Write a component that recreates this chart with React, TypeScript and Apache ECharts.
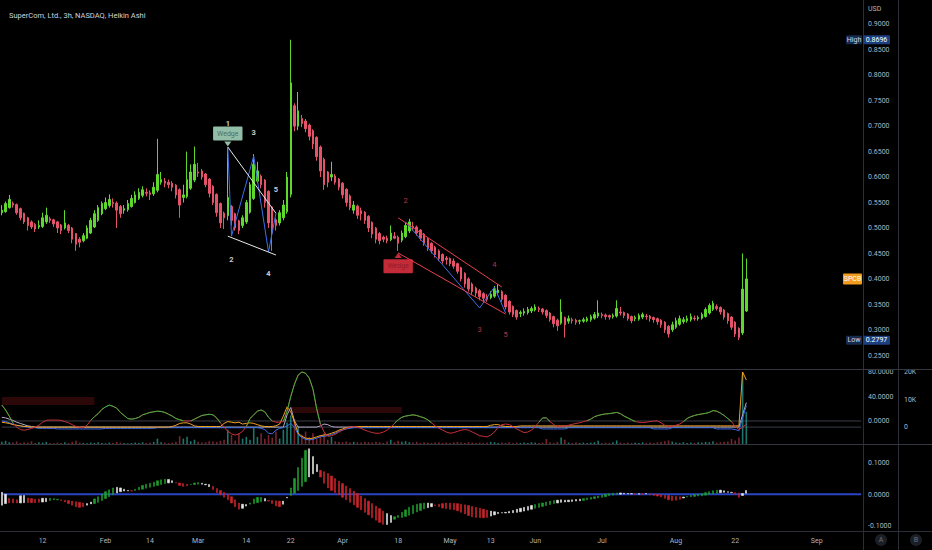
import React, { useEffect, useRef, useState } from 'react';
import * as echarts from 'echarts';

const TITLE = 'SuperCom, Ltd., 3h, NASDAQ, Heikin Ashi';
const TOTAL_SLOTS = 233;

// Heikin Ashi bars: [open, close, low, high]
const haBars = [
  [.530,.535,.525,.545],[.532,.548,.530,.552],[.540,.556,.538,.565],[.548,.545,.540,.552],[.546,.530,.526,.548],
  [.538,.520,.515,.540],[.529,.512,.508,.530],[.520,.505,.495,.522],[.512,.502,.498,.515],[.507,.498,.492,.510],
  [.502,.505,.498,.515],[.503,.520,.500,.530],[.512,.525,.508,.540],[.518,.515,.510,.522],[.516,.508,.502,.518],
  [.512,.500,.490,.514],[.506,.495,.488,.508],[.500,.510,.497,.535],[.505,.495,.490,.508],[.500,.478,.470,.502],
  [.489,.468,.455,.490],[.478,.472,.462,.482],[.475,.485,.472,.490],[.480,.500,.478,.505],[.490,.515,.488,.520],
  [.502,.528,.500,.535],[.515,.540,.512,.545],[.528,.548,.525,.552],[.538,.550,.535,.560],[.544,.556,.540,.566],
  [.550,.548,.540,.558],[.549,.535,.500,.552],[.542,.528,.520,.545],[.535,.538,.528,.545],[.536,.548,.532,.555],
  [.542,.558,.540,.565],[.550,.565,.548,.572],[.558,.570,.555,.578],[.564,.575,.560,.582],[.570,.568,.562,.578],
  [.569,.566,.555,.574],[.567,.580,.563,.590],[.574,.605,.570,.675],[.590,.595,.585,.610],[.592,.588,.580,.598],
  [.590,.585,.578,.595],[.588,.580,.572,.592],[.584,.565,.558,.586],[.575,.545,.520,.578],[.560,.565,.550,.585],
  [.562,.595,.558,.650],[.578,.610,.575,.625],[.594,.625,.590,.660],[.610,.608,.600,.628],[.612,.600,.595,.616],
  [.606,.585,.580,.608],[.596,.568,.560,.598],[.582,.550,.545,.584],[.566,.530,.522,.568],[.548,.510,.500,.550],
  [.529,.520,.498,.532],[.524,.560,.515,.658],[.542,.515,.505,.545],[.528,.500,.495,.530],[.514,.495,.488,.516],
  [.505,.520,.500,.525],[.512,.550,.508,.555],[.531,.585,.528,.590],[.558,.625,.555,.645],[.592,.612,.588,.630],
  [.602,.585,.578,.605],[.594,.550,.540,.596],[.572,.510,.500,.574],[.541,.490,.455,.543],[.516,.505,.495,.520],
  [.510,.530,.505,.535],[.520,.545,.515,.555],[.532,.600,.528,.610],[.566,.785,.560,.8696],[.740,.700,.690,.745],
  [.700,.730,.692,.767],[.715,.705,.698,.722],[.710,.695,.688,.714],[.702,.680,.672,.705],[.691,.665,.655,.694],
  [.678,.640,.632,.680],[.659,.612,.600,.662],[.635,.585,.575,.638],[.610,.590,.580,.612],[.600,.605,.592,.630],
  [.602,.590,.585,.606],[.596,.580,.574,.598],[.588,.565,.558,.590],[.576,.550,.542,.578],[.563,.540,.535,.566],
  [.535,.545,.528,.553],[.543,.525,.518,.546],[.534,.528,.515,.540],[.531,.515,.508,.533],[.523,.500,.492,.525],
  [.511,.488,.480,.513],[.500,.478,.470,.502],[.489,.475,.468,.492],[.482,.478,.472,.485],[.480,.475,.470,.485],
  [.477,.490,.474,.505],[.484,.480,.478,.492],[.482,.470,.455,.485],[.476,.490,.472,.495],[.483,.505,.480,.510],
  [.494,.512,.490,.518],[.503,.500,.495,.512],[.502,.490,.485,.505],[.496,.480,.475,.498],[.488,.470,.465,.490],
  [.479,.460,.455,.482],[.470,.455,.450,.472],[.462,.448,.442,.465],[.455,.440,.435,.458],[.448,.435,.430,.450],
  [.441,.438,.428,.445],[.440,.430,.425,.442],[.435,.425,.420,.440],[.430,.415,.410,.432],[.422,.400,.395,.424],
  [.411,.390,.383,.413],[.400,.380,.375,.403],[.390,.375,.368,.393],[.382,.372,.365,.385],[.377,.365,.358,.380],
  [.371,.362,.355,.374],[.366,.360,.355,.370],[.363,.370,.360,.376],[.366,.380,.363,.386],[.373,.378,.368,.390],
  [.375,.360,.355,.378],[.368,.345,.340,.370],[.356,.335,.330,.358],[.346,.330,.325,.348],[.338,.325,.320,.340],
  [.332,.334,.325,.338],[.333,.336,.328,.342],[.334,.340,.330,.345],[.337,.342,.333,.346],[.339,.345,.336,.350],
  [.342,.340,.335,.346],[.341,.335,.330,.343],[.338,.328,.323,.340],[.333,.320,.316,.335],[.326,.312,.305,.328],
  [.319,.308,.298,.322],[.313,.335,.310,.360],[.324,.310,.285,.326],[.317,.322,.312,.328],[.320,.318,.312,.324],
  [.319,.315,.310,.322],[.317,.318,.311,.320],[.317,.320,.314,.324],[.318,.322,.315,.326],[.320,.326,.316,.330],
  [.323,.330,.320,.335],[.327,.333,.323,.358],[.330,.328,.323,.334],[.329,.326,.320,.332],[.328,.325,.320,.330],
  [.326,.328,.322,.332],[.327,.342,.324,.358],[.335,.333,.328,.345],[.334,.328,.323,.336],[.331,.322,.318,.333],
  [.326,.318,.313,.328],[.322,.324,.317,.328],[.321,.328,.318,.332],[.325,.330,.321,.334],[.327,.326,.320,.331],
  [.327,.322,.316,.329],[.324,.320,.314,.326],[.322,.316,.310,.324],[.319,.310,.304,.321],[.315,.300,.294,.317],
  [.307,.292,.285,.309],[.300,.310,.296,.316],[.305,.318,.302,.324],[.311,.322,.308,.328],[.316,.320,.312,.325],
  [.318,.322,.314,.328],[.320,.326,.316,.332],[.323,.322,.318,.328],[.322,.324,.318,.328],[.323,.330,.320,.334],
  [.326,.340,.324,.344],[.333,.348,.330,.352],[.340,.352,.337,.357],[.346,.342,.338,.350],[.344,.335,.330,.346],
  [.339,.325,.320,.341],[.332,.318,.312,.334],[.325,.305,.300,.327],[.315,.292,.286,.317],[.303,.285,.2797,.305],
  [.294,.380,.290,.450],[.337,.400,.335,.440],
];

const volumes = [
  600,900,500,400,700,300,500,400,800,300,
  500,400,600,300,200,400,300,500,300,600,
  900,400,300,200,400,300,500,300,200,400,
  300,600,400,300,200,300,400,300,500,300,
  400,600,1500,500,400,300,400,600,2200,1500,
  2000,800,1200,600,400,500,800,700,600,900,
  1200,4000,2500,1000,3000,1500,2000,1200,4500,2000,
  3000,1500,2500,1800,3500,1500,4000,6000,8000,7000,
  5000,2500,3500,2000,3000,1500,2500,3000,1200,2000,
  800,600,500,700,400,600,500,400,600,500,
  400,600,500,300,700,1200,500,900,600,800,
  500,400,600,300,500,400,300,400,500,300,
  400,300,500,600,400,300,500,400,300,400,
  300,400,600,500,300,400,300,500,300,400,
  300,400,300,500,400,300,400,1400,500,300,
  600,1800,1200,400,300,500,300,400,300,400,
  500,900,300,400,300,500,1000,400,300,400,
  300,400,300,500,300,400,300,500,600,800,
  1000,700,400,300,500,300,400,300,500,400,
  600,500,800,400,500,600,700,1400,1000,1800,
  20000,9000,
];

const oscLine = [
  26,18,8,-3,-10,-14,-15,-14,-12,-10,
  -7,-2,1,1.5,1.5,1.5,1,-1,-3,-6,
  -9,-10,-11,-7,1,7,12,19,23,26,
  24,21,14,9,4,3,4,6,10,12,
  14,15,16,15.5,14,11,8,4,2,0.5,
  0,0,3,6,9,10,11,10,5,-3,
  -10,-17,-21,-23,-21,-17,-9,4,10,16,
  18,15,6,0,-2,-2,-1,16,40,60,
  75,80,78,70,52,20,-5,-18,-25,-24,
  -22,-18,-15,-12,-10,-9,-10,-12,-15,-17,
  -19,-20,-20,-18,-15,-10,-4,2,6,8,
  9,10,9,7,5,2,-3,-8,-12,-15,
  -18,-20,-19,-17,-15,-14,-15,-18,-21,-24,
  -25,-26,-23,-18,-10,-6,-5,-6,-9,-13,
  -16,-19,-18,-15,-9,-2,5,5,-1,-6,
  -9,-8.5,-8,-7,-5.5,-4,-3,-1,0.5,3,
  7,9,10.5,11.5,12,13,14,12,8,5,
  2,-1,-2,-2.5,-2,-1,0,0,-3,-7,
  -9,-8.5,-7,-5,-1,4,7,9,10.5,11.5,
  12.5,14,17,16,13,9,4,-1,-9,-14,
  -10,-5,
];
const OSC_GREEN_ABOVE = 1.8;

const blueLine = [
  0,-1,-3,-5,-7,-8,-9,-10,-11,-11,
  -12,-12,-12,-12,-12,-13,-13,-13,-13,-13,
  -13,-13,-13,-13,-13,-13,-13,-13,-12,-12,
  -12,-12,-12,-12,-12,-12,-12,-12,-12,-12,
  -12,-12,-11,-11,-11,-11,-11,-11,-11,-11,
  -11,-11,-11,-11,-11,-11,-11,-11,-11,-11,
  -11,-11,-11,-11,-11,-11,-11,-11,-11,-11,
  -12,-14,-20,-21,-15,-12,-11,-8,-4,-10,
  -22,-27,-30,-31,-30,-28,-26,-25,-24,-22,
  -20,-17,-15,-13,-12,-11,-11,-11,-11,-11,
  -11,-11,-11,-11,-11,-11,-11,-11,-11,-11,
  -11,-11,-11,-11,-11,-11,-11,-11,-11,-11,
  -11,-11,-11,-11,-11,-11,-11,-11,-11,-11,
  -11,-11,-11,-11,-11,-11,-11,-11,-11,-11,
  -11,-11,-11,-11,-11,-11,-13,-13,-13,-13,
  -13,-13,-13,-11,-11,-11,-11,-11,-11,-11,
  -11,-11,-11,-11,-11,-11,-11,-11,-11,-11,
  -11,-11,-11,-11,-11,-11,-13,-13,-13,-13,
  -13,-11,-11,-11,-11,-11,-11,-11,-11,-11,
  -11,-11,-11,-13,-13,-13,-13,-13,-14,-16,
  5,25,
];

const orangeLine = [
  -2,-3,-4,-6,-7,-8,-9,-9,-10,-10,
  -10,-10,-10,-10,-10,-10,-10,-10,-10,-10,
  -10,-10,-10,-10,-10,-10,-10,-10,-10,-10,
  -10,-10,-10,-10,-10,-10,-10,-10,-10,-10,
  -10,-10,-10,-10,-10,-10,-9,-7,-4,-3,
  -3,-5,-8,-9,-9,-9,-9,-9,-9,-9,
  -4,-1,-2,-3,-2,-5,-4,-3,-4,-6,
  -8,-9,-9,-9,-8,-5,8,23,15,-2,
  -20,-25,-28,-29,-28,-26,-24,-23,-22,-20,
  -18,-15,-13,-11,-10,-9,-9,-9,-9,-9,
  -9,-9,-9,-9,-9,-9,-9,-9,-9,-9,
  -9,-9,-9,-9,-9,-9,-9,-9,-9,-9,
  -9,-9,-9,-9,-9,-9,-9,-9,-9,-9,
  -9,-9,-7,-6,-6,-8,-9,-9,-9,-9,
  -8,-8,-8,-8,-8,-8,-8,-8,-8,-8,
  -8,-8,-8,-8,-8,-8,-8,-8,-8,-8,
  -8,-8,-8,-8,-8,-8,-8,-8,-8,-8,
  -8,-8,-8,-8,-8,-8,-8,-8,-8,-8,
  -8,-8,-8,-8,-8,-8,-8,-8,-8,-8,
  -8,-8,-8,-8,-8,-8,-8,-8,-8,-8,
  80,67,
];

const greyLine = [
  6,5,3,1,-2,-4,-6,-8,-9,-10,
  -10,-10,-10,-10,-10,-10,-10,-10,-10,-10,
  -10,-10,-10,-10,-10,-10,-10,-10,-10,-10,
  -10,-10,-10,-10,-10,-10,-10,-10,-10,-10,
  -10,-10,-10,-10,-10,-10,-10,-10,-10,-10,
  -10,-10,-10,-10,-10,-10,-10,-10,-10,-10,
  -10,-10,-10,-10,-10,-10,-10,-10,-10,-10,
  -10,-10,-10,-10,-10,-10,-10,10,22,0,
  -10,-10,-10,-10,-10,-10,-8,-5,-6,-9,
  -10,-10,-10,-10,-10,-10,-10,-10,-10,-10,
  -10,-10,-10,-10,-10,-10,-10,-10,-10,-10,
  -10,-10,-10,-10,-10,-10,-10,-10,-10,-10,
  -10,-10,-10,-10,-10,-10,-10,-10,-10,-10,
  -10,-10,-10,-10,-10,-10,-10,-10,-10,-10,
  -10,-10,-10,-10,-10,-10,-10,-10,-10,-10,
  -10,-10,-10,-10,-10,-10,-10,-10,-10,-10,
  -10,-10,-10,-10,-10,-10,-10,-10,-10,-10,
  -10,-10,-10,-10,-10,-10,-10,-10,-10,-10,
  -10,-10,-10,-10,-10,-10,-10,-10,-10,-10,
  -10,-10,-10,-10,-10,-10,-10,-10,-10,-10,
  10,30,
];

const macdFast = [
  .006,.000,-.013,-.015,-.018,-.005,-.004,-.012,-.014,-.016,
  -.015,-.013,-.013,-.013,-.014,-.016,-.020,-.025,-.030,-.035,
  -.040,-.042,-.040,-.035,-.025,-.015,-.008,.000,.008,.014,
  .020,.022,.020,.016,.012,.010,.016,.022,.028,.032,
  .035,.038,.043,.046,.048,.047,.043,.036,.028,.025,
  .027,.032,.036,.037,.035,.030,.024,.015,.005,-.002,
  -.010,-.018,-.028,-.040,-.048,-.045,-.038,-.028,-.015,-.010,
  -.010,-.014,-.022,-.030,-.038,-.040,-.032,-.010,.020,.050,
  .085,.115,.140,.145,.120,.095,.055,.035,.020,.012,
  .005,-.002,-.010,-.018,-.026,-.034,-.042,-.050,-.058,-.066,
  -.075,-.083,-.090,-.096,-.097,-.090,-.080,-.068,-.058,-.050,
  -.042,-.036,-.032,-.030,-.028,-.028,-.030,-.036,-.040,-.044,
  -.046,-.048,-.050,-.053,-.058,-.063,-.068,-.072,-.074,-.075,
  -.075,-.074,-.070,-.066,-.062,-.060,-.058,-.055,-.052,-.048,
  -.045,-.042,-.039,-.036,-.033,-.030,-.028,-.025,-.022,-.020,
  -.019,-.018,-.019,-.019,-.018,-.017,-.016,-.014,-.012,-.010,
  -.008,-.006,-.003,.000,.002,.003,.004,.004,.003,.002,
  .001,-.001,.000,-.001,.001,-.002,-.004,-.006,-.009,-.013,
  -.018,-.020,-.019,-.016,-.012,-.007,-.003,-.001,.000,.002,
  .005,.008,.011,.013,.013,.011,.008,.005,.000,-.010,
  -.004,.012,
];

const macdSlow = [
  -.035,-.030,-.028,-.028,-.028,-.028,-.027,-.027,-.027,-.027,
  -.026,-.025,-.024,-.020,-.018,-.018,-.018,-.019,-.020,-.022,
  -.024,-.026,-.028,-.030,-.031,-.030,-.026,-.020,-.014,-.008,
  -.002,.004,.008,.010,.010,.011,.012,.014,.016,.019,
  .022,.025,.028,.031,.034,.036,.037,.037,.036,.034,
  .032,.031,.031,.032,.032,.032,.031,.025,.018,.012,
  .006,.000,-.008,-.018,-.028,-.032,-.033,-.032,-.030,-.027,
  -.024,-.022,-.020,-.020,-.021,-.022,-.022,-.012,-.004,.003,
  .012,.025,.040,.055,.065,.072,.076,.072,.066,.058,
  .050,.042,.034,.026,.018,.010,.002,-.006,-.014,-.022,
  -.030,-.038,-.046,-.054,-.062,-.068,-.072,-.074,-.074,-.071,
  -.067,-.062,-.057,-.052,-.047,-.043,-.040,-.034,-.032,-.030,
  -.028,-.028,-.029,-.030,-.032,-.034,-.036,-.039,-.042,-.045,
  -.048,-.051,-.054,-.056,-.058,-.059,-.060,-.060,-.059,-.058,
  -.056,-.054,-.051,-.048,-.045,-.042,-.039,-.036,-.033,-.030,
  -.028,-.026,-.025,-.024,-.023,-.022,-.021,-.020,-.018,-.016,
  -.014,-.012,-.010,-.008,-.005,-.003,-.001,.000,.001,.001,
  .002,.002,.002,.002,.002,.001,.000,-.001,-.002,-.003,
  -.004,-.006,-.007,-.008,-.009,-.009,-.008,-.007,-.006,-.005,
  -.003,-.001,.001,.003,.005,.006,.006,.006,.005,.004,
  .002,.003,
];

// g = rising (green), r = falling (red), w = turning (white)
const macdColorRows = [
  'wwrrrwwrrr','rwwgggrrrr','rrrwwggggg','gwwwwrgggg','gggggwwrrr',
  'rgggwwwrrr','rrrrrwwggg','gwrrrrwwgg','gggwwwrrrr','rrrrrrrrrr',
  'rrrrwwgggg','gggggwwrrr','rrrrrrrrrr','rrwwwwwwww','wwwwgggggg',
  'wwwwwwwggg','gggggggwww','wrwrwrrrrr','rrrrwggggg','ggggwwwwrr',
  'ww',
];

const priceTickRange = [0.25, 0.9, 0.05];
const indTickRange = [0, 80, 40];
const volTickRange = [0, 20000, 10000];
const macdTickRange = [-0.1, 0.1, 0.1];
const indLevels = [0, -10];
const dateTickBars = [11, 28, 40, 53, 66, 78, 92, 107, 121, 132, 144, 162, 182, 198, 220];
const dateTickLabels = ['12', 'Feb', '14', 'Mar', '14', '22', 'Apr', '18', 'May', '13', 'Jun', 'Jul', 'Aug', '22', 'Sep'];

const HIGH_PRICE = 0.8696;
const LOW_PRICE = 0.2797;
const SYMBOL = 'SPCB';

// pattern drawings: [bar, price]
const wedge1Zigzag = [[61, 0.659], [62, 0.484], [68, 0.641], [72, 0.453], [74, 0.529]];
const wedge1Upper = [[61, 0.659], [74, 0.529]];
const wedge1Lower = [[61, 0.484], [74, 0.447]];
const wedge2Zigzag = [[109, 0.512], [129, 0.343], [133, 0.384], [136, 0.333]];
const wedge2Upper = [[107, 0.520], [135, 0.384]];
const wedge2Lower = [[107, 0.451], [136, 0.331]];
const wedge1Numbers: [string, number, number][] = [['1', 61, 0.706], ['2', 62, 0.439], ['3', 68, 0.687], ['4', 72, 0.410], ['5', 74, 0.575]];
const wedge2Numbers: [string, number, number][] = [['2', 109, 0.553], ['4', 133, 0.429], ['3', 129, 0.300], ['5', 136, 0.290]];
const wedgeBoxes = [[61, 0.6855], [107, 0.425]];
const wedgePointers = [[61, 0.665], [107, 0.446]];
// indicator zone boxes: [fromBar, toBar, top, bottom]
const zoneBoxes = [[0, 25, 39, 26], [78, 108, 23, 13]];

const GREEN = '#5fd82e';
const RED = '#e5536b';
const AXIS_TEXT = '#b2b5be';
const SEP = '#2a2d36';
const FONT = 'Roboto, sans-serif';

export default function App() {
  const ref = useRef<HTMLDivElement>(null);
  const [err, setErr] = useState('');
  useEffect(() => {
    document.body.style.margin = '0';
    document.body.style.background = '#000';
    const chart = echarts.init(ref.current as HTMLDivElement, null, { renderer: 'svg' });
    const cats = Array.from({ length: TOTAL_SLOTS }, (_, i) => String(i));
    const lastSlot = TOTAL_SLOTS - 1;
    const axisText = { color: AXIS_TEXT, fontSize: 7, fontFamily: FONT };
    const macdCodes = macdColorRows.join('').split('');
    const colorMap: Record<string, string> = { g: '#1f9a2c', r: '#c8242a', w: '#e6e6e6' };
    const ribbon = macdFast.map((a, i) => {
      const c = colorMap[macdCodes[i]] || '#e6e6e6';
      return {
        value: [a, macdSlow[i], Math.min(a, macdSlow[i]), Math.max(a, macdSlow[i])],
        itemStyle: { color: c, color0: c, borderColor: c, borderColor0: c },
      };
    });
    const volData = volumes.map((v, i) => ({
      value: v,
      itemStyle: { color: haBars[i][1] >= haBars[i][0] ? 'rgba(38,166,154,0.7)' : 'rgba(200,60,75,0.6)' },
    }));
    const oscGreen = oscLine.map((v, i) => {
      const g = (k: number) => k >= 0 && k < oscLine.length && oscLine[k] > OSC_GREEN_ABOVE;
      return g(i) || g(i - 1) || g(i + 1) ? v : null;
    });
    const xBase = {
      type: 'category', data: cats, boundaryGap: true,
      axisLine: { show: false }, axisTick: { show: false }, splitLine: { show: false },
    };
    const lineSeries = (data: number[][], color: string, width = 1) => ({
      type: 'line', data, xAxisIndex: 0, yAxisIndex: 0, showSymbol: false, silent: true, z: 5,
      lineStyle: { color, width }, itemStyle: { color },
    });
    const indLine = (data: (number | null)[], color: string, z = 3) => ({
      type: 'line', data, xAxisIndex: 1, yAxisIndex: 1, showSymbol: false, silent: true, z,
      lineStyle: { color, width: 1 }, itemStyle: { color }, connectNulls: false,
    });
    const levelLine = (v: number, xi: number, yi: number, color: string, width: number) => ({
      type: 'line', data: [[0, v], [lastSlot, v]], xAxisIndex: xi, yAxisIndex: yi, showSymbol: false,
      silent: true, z: 1, lineStyle: { color, width }, itemStyle: { color },
    });
    const zoneSeries = zoneBoxes.map(([x0, x1, top, bottom]) => ({
      type: 'line', data: [[x0, top], [x1, top]], xAxisIndex: 1, yAxisIndex: 1, showSymbol: false,
      silent: true, z: 1, lineStyle: { width: 0, color: 'rgba(0,0,0,0)' },
      areaStyle: { origin: bottom, color: 'rgba(105,20,22,0.6)' },
    }));

    const series: any[] = [
      {
        type: 'candlestick', data: haBars, xAxisIndex: 0, yAxisIndex: 0, barWidth: 2,
        itemStyle: { color: GREEN, color0: RED, borderColor: GREEN, borderColor0: RED, borderWidth: 1 },
      },
      lineSeries(wedge1Zigzag, '#3d6fe8'),
      lineSeries(wedge1Upper, '#e8e8e8'),
      lineSeries(wedge1Lower, '#e8e8e8'),
      lineSeries(wedge2Zigzag, '#3d6fe8'),
      lineSeries(wedge2Upper, '#e8404f'),
      lineSeries(wedge2Lower, '#e8404f'),
      {
        type: 'scatter', xAxisIndex: 0, yAxisIndex: 0, symbolSize: 1, silent: true, z: 6,
        itemStyle: { color: 'rgba(0,0,0,0)' },
        label: { show: true, position: 'inside', color: '#ffffff', fontSize: 7.5, fontWeight: 'bold' },
        data: wedge1Numbers.map(([t, x, y]) => ({ value: [x, y], label: { formatter: t } })),
      },
      {
        type: 'scatter', xAxisIndex: 0, yAxisIndex: 0, symbolSize: 1, silent: true, z: 6,
        itemStyle: { color: 'rgba(0,0,0,0)' },
        label: { show: true, position: 'inside', color: '#e04456', fontSize: 7.5 },
        data: wedge2Numbers.map(([t, x, y]) => ({ value: [x, y], label: { formatter: t } })),
      },
      {
        type: 'scatter', xAxisIndex: 0, yAxisIndex: 0, symbolSize: 1, silent: true, z: 8,
        itemStyle: { color: 'rgba(0,0,0,0)' },
        data: [
          { value: wedgeBoxes[0], label: { show: true, position: 'inside', formatter: 'Wedge', fontSize: 7, color: '#3a554a', backgroundColor: '#b7ecd0', padding: [4, 4, 3, 4], borderRadius: 1 } },
          { value: wedgeBoxes[1], label: { show: true, position: 'inside', formatter: 'Wedge', fontSize: 7, color: '#8a1620', backgroundColor: '#f23645', padding: [4, 4, 3, 4], borderRadius: 1 } },
        ],
      },
      {
        type: 'scatter', xAxisIndex: 0, yAxisIndex: 0, symbol: 'triangle', symbolSize: [7, 5], silent: true, z: 8,
        data: [
          { value: wedgePointers[0], symbolRotate: 180, itemStyle: { color: '#b7ecd0' } },
          { value: wedgePointers[1], itemStyle: { color: '#f23645' } },
        ],
      },
      ...zoneSeries,
      ...indLevels.map((v) => levelLine(v, 1, 1, '#3a3d48', 1)),
      {
        type: 'bar', data: volData, xAxisIndex: 1, yAxisIndex: 2, barWidth: 1.6, silent: true, z: 2,
      },
      indLine(greyLine, '#b3a9c4'),
      indLine(blueLine, '#3d6fe8'),
      indLine(orangeLine, '#f0a020'),
      indLine(oscLine, '#c8303a', 4),
      indLine(oscGreen, '#32b83c', 4),
      levelLine(0, 2, 3, '#2a45c4', 2),
      {
        type: 'candlestick', data: ribbon, xAxisIndex: 2, yAxisIndex: 3, barWidth: 1.8, silent: true, z: 3,
        itemStyle: { borderWidth: 0.6 },
      },
    ];

    const hiddenY = (gridIndex: number, min: number, max: number) => ({
      gridIndex, type: 'value', min, max, show: false, splitLine: { show: false },
    });
    const labelY = (gridIndex: number, r: number[], fmt: (v: number) => string, offset = 0, margin = 5) => ({
      gridIndex, type: 'value', position: 'right', offset, min: r[0], max: r[1], interval: r[2],
      axisLine: { show: false }, axisTick: { show: false }, splitLine: { show: false },
      axisLabel: { ...axisText, margin, formatter: fmt },
    });
    const hiddenX = (gridIndex: number) => ({ gridIndex, type: 'value', show: false, min: 0, max: 1, splitLine: { show: false } });
    const fix4 = (v: number) => v.toFixed(4);

    const option: any = {
      animation: false,
      backgroundColor: '#000',
      textStyle: { fontFamily: FONT },
      title: {
        text: TITLE, left: 4, top: 6,
        textStyle: { color: '#d1d4dc', fontSize: 7.5, fontWeight: 'normal', fontFamily: FONT },
      },
      grid: [
        { left: 0, right: 69, top: 0, height: 369 },
        { left: 0, right: 69, top: 369, height: 75 },
        { left: 0, right: 69, top: 444, height: 87 },
        { left: 0, right: 69, top: 24.3, height: 331.2 },
        { left: 0, right: 69, top: 372, height: 49 },
        { left: 0, right: 69, top: 372, height: 55 },
        { left: 0, right: 69, top: 463, height: 63 },
      ],
      xAxis: [
        { ...xBase, gridIndex: 0, axisLabel: { show: false } },
        { ...xBase, gridIndex: 1, axisLabel: { show: false } },
        {
          ...xBase, gridIndex: 2,
          axisLabel: {
            show: true, ...axisText, margin: 6,
            interval: (i: number) => dateTickBars.includes(i),
            formatter: (_v: string, i: number) => {
              const k = dateTickBars.indexOf(i);
              return k >= 0 ? dateTickLabels[k] : '';
            },
          },
        },
        hiddenX(3), hiddenX(4), hiddenX(5), hiddenX(6),
      ],
      yAxis: [
        hiddenY(0, 0.2231, 0.9477),
        hiddenY(1, -37.6, 84.9),
        hiddenY(1, 0, 21000),
        hiddenY(2, -0.1175, 0.1603),
        labelY(3, priceTickRange, fix4),
        labelY(4, indTickRange, fix4),
        labelY(5, volTickRange, (v: number) => (v === 0 ? '0' : v / 1000 + 'K'), 35, 6),
        labelY(6, macdTickRange, fix4),
      ],
      series,
    };

    try {
      chart.setOption(option);
    } catch (e: any) {
      setErr('setOption1: ' + String(e && e.stack ? e.stack : e));
      return () => chart.dispose();
    }

    const staticGraphics: any[] = [
      { type: 'line', silent: true, shape: { x1: 863.5, y1: 0, x2: 863.5, y2: 550 }, style: { stroke: SEP, lineWidth: 1 }, z: 100 },
      { type: 'line', silent: true, shape: { x1: 898.5, y1: 0, x2: 898.5, y2: 550 }, style: { stroke: SEP, lineWidth: 1 }, z: 100 },
      { type: 'line', silent: true, shape: { x1: 0, y1: 369.5, x2: 932, y2: 369.5 }, style: { stroke: '#34373f', lineWidth: 1 }, z: 100 },
      { type: 'line', silent: true, shape: { x1: 0, y1: 444.5, x2: 932, y2: 444.5 }, style: { stroke: '#34373f', lineWidth: 1 }, z: 100 },
      { type: 'line', silent: true, shape: { x1: 0, y1: 531.5, x2: 932, y2: 531.5 }, style: { stroke: SEP, lineWidth: 1 }, z: 100 },
      { type: 'text', silent: true, x: 868, y: 5, style: { text: 'USD', fill: AXIS_TEXT, fontSize: 7, fontFamily: FONT }, z: 100 },
      { type: 'circle', silent: true, shape: { cx: 881, cy: 540, r: 6 }, style: { fill: '#1c1e26' }, z: 100 },
      { type: 'text', silent: true, x: 881, y: 540, style: { text: 'A', fill: '#6d707a', fontSize: 7, fontFamily: FONT, align: 'center', verticalAlign: 'middle' }, z: 101 },
      { type: 'circle', silent: true, shape: { cx: 916, cy: 540, r: 6 }, style: { fill: '#1c1e26' }, z: 100 },
      { type: 'text', silent: true, x: 916, y: 540, style: { text: 'B', fill: '#6d707a', fontSize: 7, fontFamily: FONT, align: 'center', verticalAlign: 'middle' }, z: 101 },
    ];

    const tag = (x: number, yc: number, w: number, h: number, fill: string, text: string, color: string) => [
      { type: 'rect', silent: true, shape: { x, y: yc - h / 2, width: w, height: h, r: 1 }, style: { fill }, z: 110 },
      { type: 'text', silent: true, x: x + w / 2, y: yc, style: { text, fill: color, fontSize: 7, fontFamily: FONT, align: 'center', verticalAlign: 'middle' }, z: 111 },
    ];
    const toY = (v: number): number => {
      try {
        const p = chart.convertToPixel({ gridIndex: 0 } as any, [0, v]) as any;
        return Array.isArray(p) ? p[1] : 0;
      } catch (e) {
        return 0;
      }
    };
    const lastClose = haBars[haBars.length - 1][1];
    const yHigh = toY(HIGH_PRICE);
    const yLow = toY(LOW_PRICE);
    const yLast = toY(lastClose);
    const tags = [
      ...tag(846, yHigh, 16, 9, '#172a50', 'High', '#cfd6e6'),
      ...tag(863, yHigh, 27, 9, '#1d3f80', HIGH_PRICE.toFixed(4), '#ffffff'),
      ...tag(846, yLow, 16, 9, '#172a50', 'Low', '#cfd6e6'),
      ...tag(863, yLow, 27, 9, '#1d3f80', LOW_PRICE.toFixed(4), '#ffffff'),
      ...tag(843, yLast, 19, 11, '#f29c1f', SYMBOL, '#ffffff'),
    ];
    try {
      chart.setOption({ graphic: [...staticGraphics, ...tags] });
    } catch (e: any) {
      setErr('setOption2: ' + String(e && e.stack ? e.stack : e));
    }

    return () => chart.dispose();
  }, []);
  return (
    <div>
      <div ref={ref} style={{ position: 'absolute', left: 0, top: 0, width: 932, height: 550, background: '#000' }} />
      {err ? (
        <pre style={{ position: 'absolute', left: 0, top: 0, color: '#fff', fontSize: 9, whiteSpace: 'pre-wrap', width: 920, zIndex: 10 }}>{err}</pre>
      ) : null}
    </div>
  );
}
